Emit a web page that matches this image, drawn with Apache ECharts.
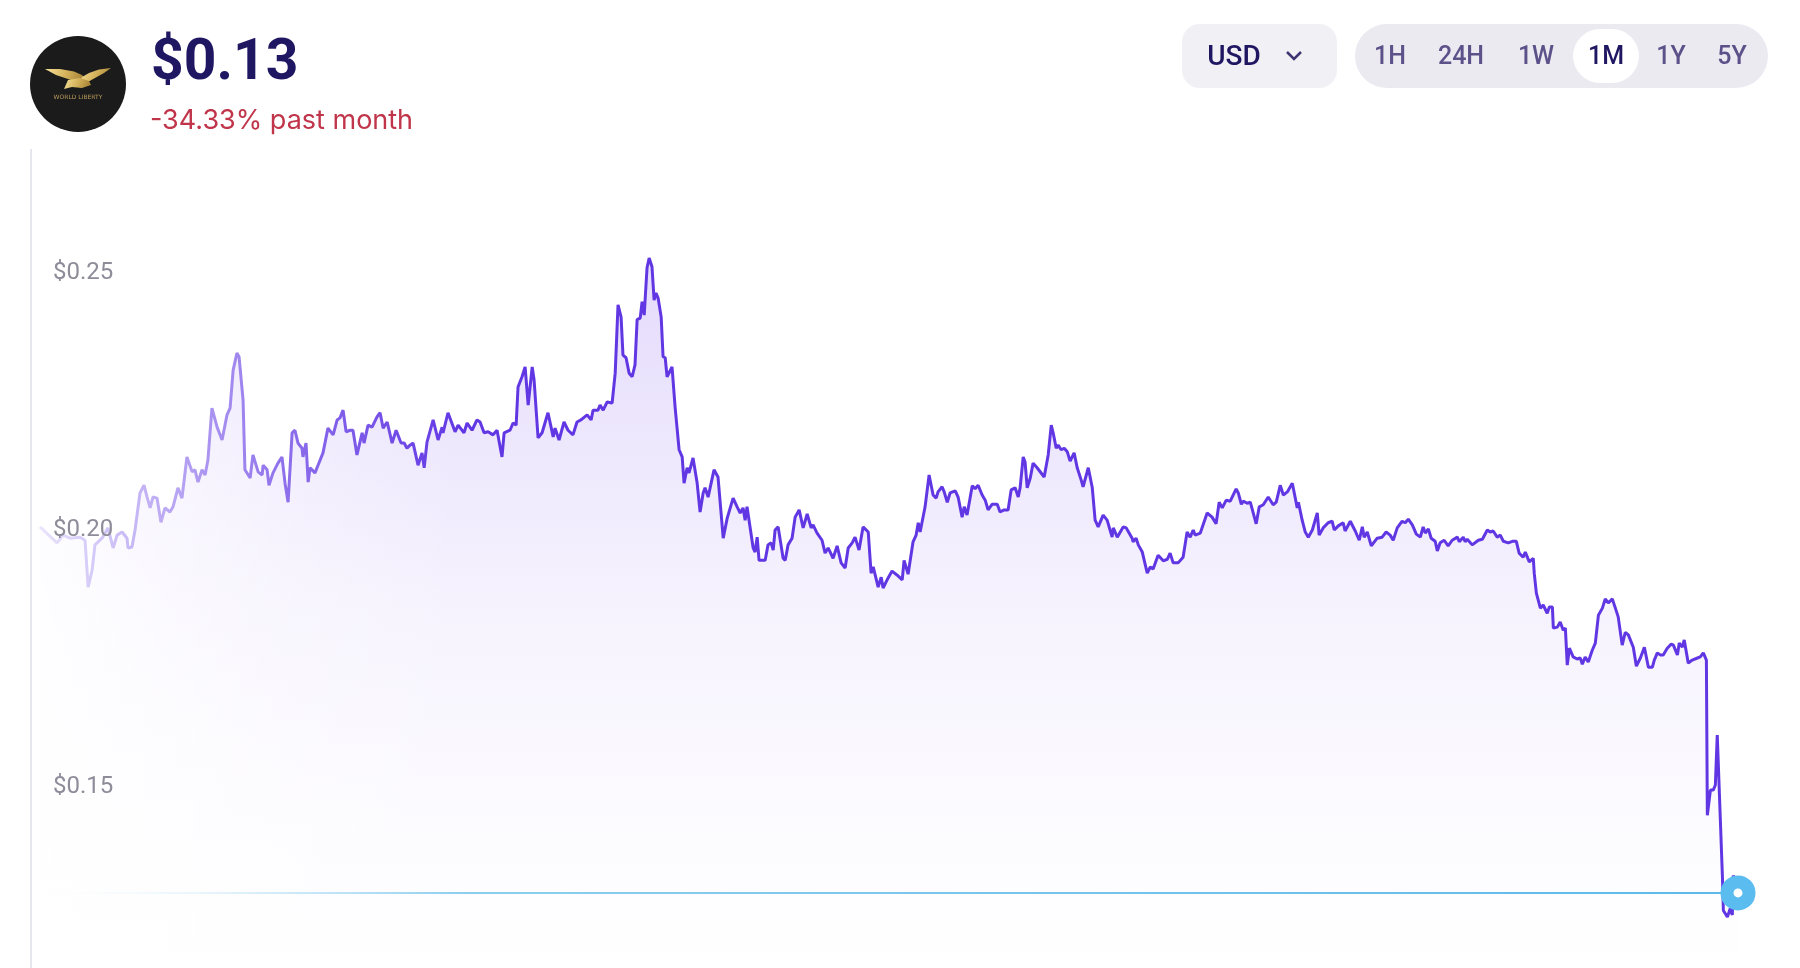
<!DOCTYPE html>
<html>
<head>
<meta charset="utf-8">
<script src="https://cdn.jsdelivr.net/npm/echarts@6/dist/echarts.min.js"></script>
<style>
html,body{margin:0;padding:0;background:#fff;}
#chart{width:1800px;height:968px;}
</style>
</head>
<body>
<div id="chart"></div>
<script>
// ---- data (hours since start of the month window, price in USD) ----
const hours = [
0,7.2,9.8,12.7,17.0,19.1,20.4,22.1,23.3,26.3,28.8,31.0,32.7,34.8,36.9,37.3,39.0,40.3,42.4,44.1,
45.4,46.7,47.9,49.6,51.3,53.0,55.1,56.4,58.5,60.2,62.3,64.5,65.7,67.0,68.7,70.0,71.2,72.9,75.1,77.2,
79.3,80.6,81.9,83.5,84.4,86.1,86.9,89.1,90.3,92.5,94.2,94.6,96.3,97.1,98.8,100.9,102.6,103.9,105.2,106.9,
108.1,109.4,111.1,111.5,112.8,113.7,114.5,116.6,117.9,120.0,122.1,124.3,126.0,127.2,128.5,129.8,131.5,132.7,134.4,136.6,
137.4,139.1,140.8,142.9,144.2,145.5,147.2,149.3,151.0,153.1,154.4,155.6,156.9,158.2,160.3,162.0,162.9,164.1,166.7,168.8,
170.5,170.9,173.0,176.0,177.3,179.8,181.1,183.2,185.3,186.6,188.3,190.0,192.1,193.8,195.9,196.8,199.3,200.6,201.9,202.7,
204.4,205.7,207.0,208.7,209.5,211.2,212.9,215.4,217.6,218.4,220.1,222.2,223.9,226.0,227.7,229.4,232.0,233.7,234.5,236.6,
237.5,238.8,240.5,242.6,243.9,245.1,246.4,247.2,248.5,249.8,251.1,252.3,253.2,254.5,255.3,256.2,257.4,258.3,259.5,260.4,
261.2,262.1,263.4,264.2,265.1,265.9,268.0,269.3,271.0,272.3,273.1,274.4,275.2,276.9,278.6,279.9,281.2,282.0,283.3,285.8,
287.5,289.7,291.4,293.9,295.6,296.9,298.1,299.0,299.8,302.4,303.2,304.1,304.9,307.5,308.7,310.0,310.9,311.7,313.0,315.1,
316.0,317.2,318.9,320.2,321.9,323.6,325.3,327.0,327.8,329.5,331.6,332.9,334.2,336.3,338.0,339.7,341.4,342.7,344.4,345.6,
347.3,349.0,351.2,352.4,353.3,355.4,356.7,357.5,359.2,361.3,363.5,365.6,366.4,368.1,370.2,371.5,372.4,373.2,375.3,377.0,
378.7,380.0,380.8,382.5,383.4,384.7,385.9,388.1,389.3,391.0,391.9,393.1,395.3,396.5,397.8,399.5,400.8,402.0,403.7,405.9,
407.1,408.8,410.5,411.8,413.5,414.8,415.6,416.9,417.7,418.6,419.9,421.1,422.8,425.8,427.5,428.8,429.6,430.9,431.7,433.0,
434.3,435.6,436.8,438.5,439.8,441.5,442.3,444.5,446.2,447.4,448.7,450.8,452.5,454.6,455.1,456.8,459.3,460.6,463.1,463.5,
464.8,465.7,467.4,469.5,470.8,472.0,474.1,476.3,478.0,479.2,480.5,482.6,484.7,486.4,487.7,489.0,489.8,492.0,494.9,497.0,
498.7,500.0,501.3,503.0,504.7,507.2,508.1,509.4,510.2,511.9,513.2,515.7,517.0,518.7,520.8,521.6,522.9,524.2,525.9,527.2,
528.9,531.0,531.4,533.1,533.6,535.2,536.5,537.8,539.5,541.6,542.4,544.1,546.2,547.9,548.8,550.5,552.6,553.4,555.6,557.7,
559.4,560.7,561.5,562.8,564.5,567.0,569.1,570.8,572.5,573.8,575.5,577.6,578.9,580.2,581.9,583.6,585.3,586.5,587.4,588.7,
589.9,591.6,592.5,593.7,595.4,597.1,598.8,601.0,601.8,603.5,604.3,605.2,607.3,609.9,611.6,613.7,614.9,616.2,617.9,619.2,
620.5,622.6,624.3,626.0,627.2,628.9,629.8,631.5,633.2,633.6,634.5,636.2,637.4,639.1,640.0,641.3,641.7,643.4,644.6,645.9,
646.8,647.6,648.5,650.1,651.8,653.1,654.0,655.2,656.5,658.2,659.5,660.8,662.5,663.7,665.0,666.7,668.0,669.2,670.9,672.2,
673.5,675.6,676.9,678.6,680.3,682.0,683.7,684.5,685.8,687.0,688.3,690.0,691.7,692.6,694.3,695.1,696.4,697.2,698.9,700.6,
702.8,704.0,705.3,706.6,707.0,708.3,709.5,710.4,711.2,711.7,713.4,713.8,715.5,716.7,717.6,718.0,720.0
];
const prices = [
0.2006,0.1975,0.1990,0.1984,0.1986,0.1980,0.1889,0.1922,0.1971,0.1984,0.2004,0.1965,0.1990,0.1996,0.1984,0.1965,0.1967,0.2000,0.2072,0.2087,
0.2064,0.2043,0.2064,0.2062,0.2015,0.2043,0.2035,0.2045,0.2082,0.2062,0.2142,0.2113,0.2117,0.2093,0.2117,0.2107,0.2136,0.2237,0.2200,0.2175,
0.2224,0.2237,0.2311,0.2344,0.2337,0.2253,0.2117,0.2101,0.2146,0.2113,0.2107,0.2126,0.2117,0.2087,0.2111,0.2130,0.2142,0.2091,0.2054,0.2189,
0.2194,0.2169,0.2159,0.2142,0.2169,0.2093,0.2121,0.2111,0.2126,0.2150,0.2198,0.2185,0.2214,0.2218,0.2233,0.2191,0.2194,0.2194,0.2146,0.2189,
0.2169,0.2204,0.2200,0.2220,0.2228,0.2198,0.2210,0.2169,0.2194,0.2169,0.2169,0.2159,0.2165,0.2169,0.2126,0.2150,0.2121,0.2171,0.2214,0.2175,
0.2200,0.2189,0.2228,0.2191,0.2204,0.2189,0.2208,0.2194,0.2214,0.2210,0.2189,0.2191,0.2185,0.2194,0.2142,0.2189,0.2194,0.2208,0.2204,0.2278,
0.2298,0.2317,0.2243,0.2317,0.2292,0.2179,0.2189,0.2228,0.2181,0.2198,0.2175,0.2210,0.2194,0.2185,0.2210,0.2214,0.2224,0.2214,0.2233,0.2233,
0.2243,0.2233,0.2249,0.2247,0.2305,0.2438,0.2414,0.2340,0.2335,0.2305,0.2298,0.2321,0.2409,0.2412,0.2444,0.2418,0.2510,0.2529,0.2512,0.2447,
0.2461,0.2451,0.2414,0.2337,0.2335,0.2298,0.2317,0.2239,0.2156,0.2142,0.2091,0.2121,0.2111,0.2140,0.2093,0.2035,0.2072,0.2082,0.2064,0.2117,
0.2103,0.1984,0.2023,0.2062,0.2045,0.2033,0.2043,0.2019,0.2045,0.1965,0.1957,0.1986,0.1941,0.1941,0.1971,0.1975,0.1961,0.2000,0.2006,0.1945,
0.1941,0.1971,0.1984,0.2025,0.2039,0.2004,0.2031,0.2004,0.2010,0.1994,0.1980,0.1955,0.1965,0.1945,0.1969,0.1936,0.1926,0.1965,0.1975,0.1986,
0.1961,0.2006,0.1996,0.1916,0.1928,0.1889,0.1908,0.1887,0.1903,0.1920,0.1912,0.1903,0.1941,0.1914,0.1977,0.1990,0.2014,0.1996,0.2045,0.2107,
0.2068,0.2062,0.2074,0.2084,0.2074,0.2054,0.2072,0.2076,0.2064,0.2025,0.2045,0.2029,0.2086,0.2080,0.2087,0.2068,0.2058,0.2039,0.2050,0.2050,
0.2035,0.2039,0.2039,0.2078,0.2082,0.2064,0.2082,0.2142,0.2132,0.2082,0.2101,0.2130,0.2121,0.2103,0.2146,0.2204,0.2189,0.2159,0.2165,0.2156,
0.2159,0.2152,0.2134,0.2150,0.2121,0.2097,0.2084,0.2121,0.2082,0.2019,0.2006,0.2029,0.2019,0.1986,0.2004,0.1986,0.2006,0.2004,0.1984,0.1977,
0.1984,0.1971,0.1957,0.1916,0.1928,0.1924,0.1951,0.1940,0.1943,0.1955,0.1936,0.1936,0.1947,0.1996,0.1986,0.2000,0.1990,0.1994,0.2033,0.2025,
0.2012,0.2054,0.2043,0.2058,0.2056,0.2080,0.2072,0.2050,0.2056,0.2052,0.2054,0.2012,0.2045,0.2049,0.2064,0.2066,0.2049,0.2054,0.2087,0.2068,
0.2074,0.2091,0.2082,0.2043,0.2054,0.2019,0.1996,0.1986,0.2000,0.2033,0.1990,0.2004,0.2014,0.2017,0.2000,0.2008,0.2014,0.1998,0.2017,0.1998,
0.1980,0.2006,0.1986,0.1996,0.1969,0.1984,0.1986,0.1996,0.1990,0.1980,0.2004,0.2017,0.2014,0.2021,0.2010,0.1992,0.1986,0.2006,0.1994,0.2002,
0.1984,0.1978,0.1959,0.1975,0.1980,0.1969,0.1980,0.1986,0.1977,0.1986,0.1977,0.1982,0.1971,0.1980,0.1982,0.2000,0.1996,0.1998,0.1986,0.1990,
0.1978,0.1975,0.1978,0.1978,0.1955,0.1947,0.1957,0.1938,0.1945,0.1916,0.1877,0.1848,0.1854,0.1838,0.1850,0.1850,0.1809,0.1811,0.1821,0.1805,
0.1809,0.1737,0.1770,0.1753,0.1749,0.1751,0.1739,0.1753,0.1743,0.1766,0.1780,0.1834,0.1848,0.1866,0.1858,0.1866,0.1848,0.1831,0.1776,0.1801,
0.1796,0.1772,0.1735,0.1751,0.1772,0.1733,0.1733,0.1747,0.1761,0.1757,0.1757,0.1770,0.1778,0.1776,0.1757,0.1780,0.1772,0.1786,0.1741,0.1747,
0.1751,0.1753,0.1761,0.1747,0.1445,0.1494,0.1494,0.1504,0.1601,0.1539,0.1325,0.1260,0.1247,0.1264,0.1251,0.1328,0.1294
];
const yTickValues = [0.15, 0.20, 0.25];
const yTickLabels = ['$0.15', '$0.20', '$0.25'];
const priceText = '$0.13';
const changeText = '-34.33% past month';
const currencyText = 'USD';
const ranges = ['1H', '24H', '1W', '1M', '1Y', '5Y'];
const selectedRange = '1M';

// ---- chart ----
const chart = echarts.init(document.getElementById('chart'), null, {renderer: 'canvas'});
const seriesData = hours.map((h, i) => [h, prices[i]]);
const lastIdx = prices.length - 1;
const currentPrice = prices[lastIdx];

const rangeX = [1390, 1461, 1536, 1606, 1671, 1732];
const graphics = [];

// logo
graphics.push({type: 'circle', shape: {cx: 78, cy: 84, r: 48}, style: {fill: '#1b1b1b'}, z: 30});
const gold = new echarts.graphic.LinearGradient(0, 0, 1, 1, [
  {offset: 0, color: '#f6e29a'}, {offset: 0.5, color: '#d4b15a'}, {offset: 1, color: '#9c7a2e'}]);
graphics.push({type: 'polygon', shape: {points: [[45,69],[60,69],[74,71.5],[82,75],[86,80],[79,82.5],[68,79],[56,75]]}, style: {fill: gold}, z: 31});
graphics.push({type: 'polygon', shape: {points: [[111,68],[99,69.5],[89,73],[82,77],[80,82],[86,83],[95,78],[104,73]]}, style: {fill: gold}, z: 31});
graphics.push({type: 'polygon', shape: {points: [[68,80],[80,78],[89,81],[91,85],[82,88],[72,87],[64,89]]}, style: {fill: gold}, z: 31});
graphics.push({type: 'text', style: {x: 78, y: 97, text: 'WORLD LIBERTY', font: '6px "DejaVu Sans"', fill: '#b99b5c', textAlign: 'center', textVerticalAlign: 'middle'}, z: 31});

// header texts
graphics.push({type: 'text', style: {x: 151, y: 65, text: priceText, font: 'bold 57px Roboto', fill: '#1f1762', textAlign: 'left', textVerticalAlign: 'middle'}, z: 30});
graphics.push({type: 'text', style: {x: 150, y: 121, text: changeText, font: '27px Inter', fill: '#c0354a', textAlign: 'left', textVerticalAlign: 'middle'}, z: 30});

// currency selector
graphics.push({type: 'rect', shape: {x: 1182, y: 24, width: 155, height: 64, r: 18}, style: {fill: '#f1f1f5'}, z: 30});
graphics.push({type: 'text', style: {x: 1234, y: 58, text: currencyText, font: '500 28px Roboto', fill: '#1f1762', textAlign: 'center', textVerticalAlign: 'middle'}, z: 31});
graphics.push({type: 'polyline', shape: {points: [[1287,52],[1294,59],[1301,52]]}, style: {stroke: '#3d3470', lineWidth: 2.5, fill: null}, z: 31});

// range selector
graphics.push({type: 'rect', shape: {x: 1355, y: 24, width: 413, height: 64, r: 32}, style: {fill: '#ebeaf1'}, z: 30});
ranges.forEach((r, i) => {
  const sel = r === selectedRange;
  if (sel) graphics.push({type: 'rect', shape: {x: rangeX[i] - 33, y: 29, width: 66, height: 54, r: 27}, style: {fill: '#ffffff'}, z: 31});
  graphics.push({type: 'text', style: {x: rangeX[i], y: 58, text: r, font: '500 25px Roboto', fill: sel ? '#1f1762' : '#5c5189', textAlign: 'center', textVerticalAlign: 'middle'}, z: 32});
});

// vertical axis line
graphics.push({type: 'line', shape: {x1: 31, y1: 149, x2: 31, y2: 968}, style: {stroke: '#e6e6ed', lineWidth: 2}, z: 30});

// left fade overlay
graphics.push({type: 'rect', shape: {x: 33, y: 140, width: 430, height: 828}, style: {fill: new echarts.graphic.LinearGradient(0, 0, 1, 0, [
  {offset: 0, color: 'rgba(255,255,255,0.88)'},
  {offset: 0.3, color: 'rgba(255,255,255,0.58)'},
  {offset: 0.6, color: 'rgba(255,255,255,0.27)'},
  {offset: 1, color: 'rgba(255,255,255,0)'}])}, z: 10, silent: true});

const option = {
  animation: false,
  backgroundColor: '#ffffff',
  grid: {left: 40, top: 149, width: 1698, bottom: 0, containLabel: false},
  xAxis: {type: 'value', min: 0, max: 720, show: false},
  yAxis: {
    type: 'value', min: 0.1148, max: 0.2741, z: 20,
    axisLine: {show: false}, axisTick: {show: false}, splitLine: {show: false},
    axisLabel: {
      inside: true, margin: 13, color: '#8e8c99', fontSize: 24, fontFamily: 'Roboto',
      customValues: yTickValues,
      formatter: (v) => {
        const i = yTickValues.findIndex(t => Math.abs(t - v) < 1e-6);
        return i >= 0 ? yTickLabels[i] : '';
      }
    }
  },
  series: [
    {
      type: 'line', data: seriesData, symbol: 'none', z: 3,
      lineStyle: {color: '#6137e4', width: 3},
      areaStyle: {origin: 'start', color: new echarts.graphic.LinearGradient(0, 0, 0, 1, [
        {offset: 0, color: 'rgba(120,72,238,0.28)'},
        {offset: 0.06, color: 'rgba(120,72,238,0.26)'},
        {offset: 0.27, color: 'rgba(120,72,238,0.18)'},
        {offset: 0.48, color: 'rgba(120,72,238,0.10)'},
        {offset: 0.69, color: 'rgba(120,72,238,0.05)'},
        {offset: 0.90, color: 'rgba(120,72,238,0.015)'},
        {offset: 1, color: 'rgba(120,72,238,0)'}])}
    },
    {
      type: 'line', data: [[hours[0], currentPrice], [hours[lastIdx], currentPrice]], symbol: 'none', z: 4,
      lineStyle: {width: 2, color: new echarts.graphic.LinearGradient(0, 0, 1, 0, [
        {offset: 0, color: 'rgba(92,186,232,0)'},
        {offset: 0.25, color: 'rgba(92,186,232,0.7)'},
        {offset: 1, color: 'rgba(92,186,232,1)'}])}
    },
    {
      type: 'scatter', data: [[hours[lastIdx], currentPrice]], z: 25,
      symbol: 'circle', symbolSize: 22,
      itemStyle: {color: '#ffffff', borderColor: '#5bbcf0', borderWidth: 13, opacity: 1}
    }
  ],
  graphic: graphics
};
chart.setOption(option);
</script>
</body>
</html>
